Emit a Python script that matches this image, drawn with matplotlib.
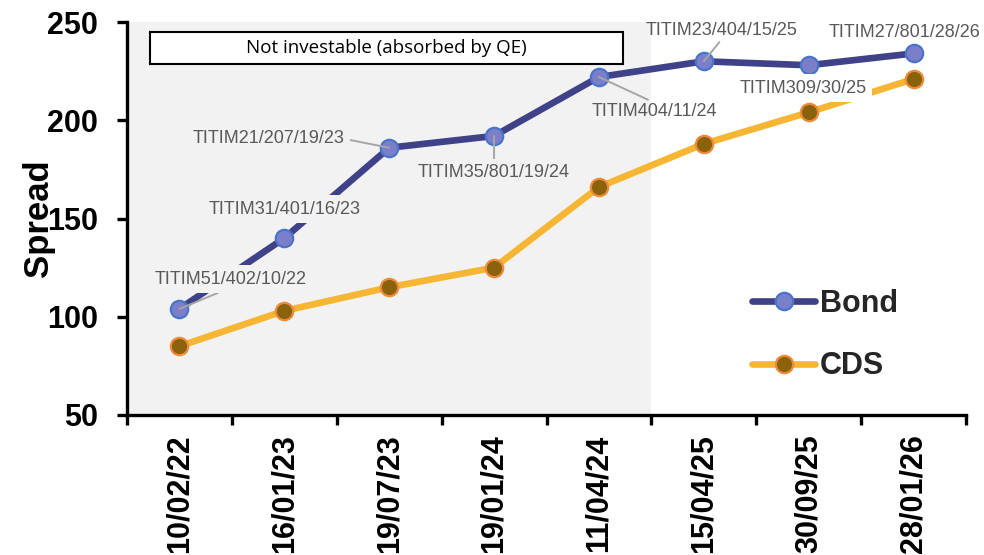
import matplotlib
matplotlib.use("Agg")
import matplotlib.pyplot as plt
from matplotlib.patches import Rectangle
import numpy as np

dates = ["10/02/22", "16/01/23", "19/07/23", "19/01/24", "11/04/24", "15/04/25", "30/09/25", "28/01/26"]
bond = [104, 140, 186, 192, 222, 230, 228, 234]
cds = [85, 103, 115, 125, 166, 188, 204, 221]
bond_names = ["TITIM51/402/10/22", "TITIM31/401/16/23", "TITIM21/207/19/23", "TITIM35/801/19/24",
              "TITIM404/11/24", "TITIM23/404/15/25", "TITIM309/30/25", "TITIM27/801/28/26"]
shade_text = "Not investable (absorbed by QE)"

plt.rcParams['font.family'] = ['Liberation Sans', 'DejaVu Sans']

fig = plt.figure(figsize=(9.84, 5.55), dpi=100)
ax = fig.add_axes([127/984, 1-415/555, (966-127)/984, (415-22)/555])

x = np.arange(len(dates))
ax.axvspan(-0.5, 4.5, color='#f2f2f2', zorder=0, lw=0)

ax.plot(x, bond, color='#3f4288', lw=4.8, marker='o', ms=12.5, mfc='#7b7fca', mec='#4a74c9',
        mew=1.6, zorder=3, label='Bond', solid_capstyle='round')
ax.plot(x, cds, color='#f6b633', lw=4.8, marker='o', ms=12.5, mfc='#8a620c', mec='#ee8a3a',
        mew=1.6, zorder=3, label='CDS', solid_capstyle='round')

ax.set_xlim(-0.5, 7.5)
ax.set_ylim(50, 250)
ax.set_yticks([50, 100, 150, 200, 250])
ax.set_xticks(np.arange(-0.5, 8, 1))
ax.set_xticklabels([])
ax.set_xticks(x, minor=True)
ax.set_xticklabels(dates, minor=True, rotation=90, fontsize=22, fontweight='bold', va='top')
ax.tick_params(axis='x', which='minor', length=0, pad=14)
ax.tick_params(axis='x', which='major', length=7, width=2.4, direction='out')
ax.tick_params(axis='y', length=7, width=2.4, direction='out', pad=14)
for lab in ax.get_yticklabels():
    lab.set_fontsize(22)
    lab.set_fontweight('bold')
for s in ['top', 'right']:
    ax.spines[s].set_visible(False)
for s in ['left', 'bottom']:
    ax.spines[s].set_linewidth(2.4)
ax.set_ylabel('Spread', fontsize=25, fontweight='bold')
ax.yaxis.set_label_coords(-0.086, 0.5)

# shaded-region label box
ax.add_patch(Rectangle((-0.277, 228.6), 4.229 + 0.277, 244.9 - 228.6, facecolor='white',
                       edgecolor='black', lw=1.5, zorder=4))
ax.text(1.976, 236.8, shade_text, ha='center', va='center', fontsize=13.5,
        family=['Open Sans', 'DejaVu Sans'], color='black', zorder=5)

gray = '#595959'
lead = '#a6a6a6'
ann = [
    (0.49, 119.2, 'center', (0.5, 0.0), True, '#f2f2f2'),
    (1.0, 154.8, 'center', (0.5, 0.5), False, '#f2f2f2'),
    (1.575, 190.5, 'right', (1.0, 0.5), True, '#f2f2f2'),
    (3.0, 173.2, 'center', (0.5, 1.0), True, '#f2f2f2'),
    (4.525, 204.7, 'center', (0.5, 1.0), True, 'none'),
    (5.17, 245.5, 'center', (0.5, 0.0), True, 'none'),
    (5.95, 216.4, 'center', (0.5, 0.5), False, 'white'),
    (6.91, 244.5, 'center', (0.5, 0.5), False, 'none'),
]
for i, (tx, ty, ha, rp, has_lead, bg) in enumerate(ann):
    kw = {}
    if has_lead:
        kw['arrowprops'] = dict(arrowstyle='-', color=lead, lw=1.4, relpos=rp,
                                shrinkA=0, shrinkB=0)
    bbox = None
    if bg != 'none':
        bbox = dict(boxstyle='square,pad=0.3', fc=bg, ec='none')
    ax.annotate(bond_names[i], xy=(x[i], bond[i]), xytext=(tx, ty), textcoords='data',
                ha=ha, va='center', fontsize=13, color=gray, zorder=5, bbox=bbox, **kw)

leg = ax.legend(loc='center left', bbox_to_anchor=(0.745, 0.203), frameon=False,
                prop={'size': 22, 'weight': 'bold'}, borderpad=0, borderaxespad=0,
                handlelength=2.06, handletextpad=0.16, labelspacing=1.05)
for t in leg.get_texts():
    t.set_color('#262626')

fig.savefig('out.png', dpi=100)
